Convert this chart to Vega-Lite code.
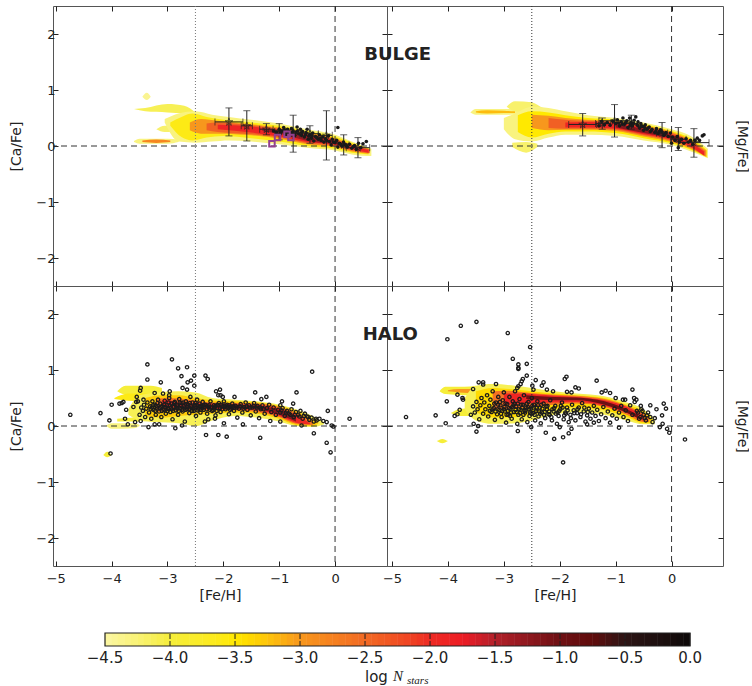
{"$schema":"https://vega.github.io/schema/vega-lite/v6.json","background":"white","padding":{"left":9,"top":5,"right":0,"bottom":0},"config":{"view":{"stroke":"#555","strokeWidth":1},"axis":{"labelFont":"DejaVu Sans","titleFont":"DejaVu Sans","labelFontSize":13,"titleFontSize":14,"titleFontWeight":"normal","labelColor":"#222","titleColor":"#222","tickColor":"#222","grid":false,"domain":false}},
"columns":2,"align":"none","bounds":"flush","spacing":0,
"datasets":{
"lines":[{"k":0}],
"vd":[{"x":0}],"vt":[{"x":-2.5}],
"tl":[
{"b":1,"v":-4.3,"x":-3.6,"l":0.07,"h":0.09},{"b":1,"v":-4.3,"x":-3.5,"l":0.04,"h":0.13},{"b":1,"v":-4.3,"x":-3.0,"l":0.04,"h":0.13},{"b":1,"v":-4.3,"x":-2.8,"l":0.07,"h":0.11},
{"b":2,"v":-2.8,"x":-3.45,"l":0.07,"h":0.1},{"b":2,"v":-2.8,"x":-3.2,"l":0.055,"h":0.115},{"b":2,"v":-2.8,"x":-2.95,"l":0.07,"h":0.1},
{"b":3,"v":-4.1,"x":-3.6,"l":0.66,"h":0.66},{"b":3,"v":-4.1,"x":-3.4,"l":0.62,"h":0.68},{"b":3,"v":-4.1,"x":-3.0,"l":0.6,"h":0.75},{"b":3,"v":-4.1,"x":-2.7,"l":0.58,"h":0.72},{"b":3,"v":-4.1,"x":-2.5,"l":0.55,"h":0.6},
{"b":4,"v":-4.4,"x":-3.45,"l":0.88,"h":0.88},{"b":4,"v":-4.4,"x":-3.37,"l":0.82,"h":0.95},{"b":4,"v":-4.4,"x":-3.3,"l":0.88,"h":0.88},
{"b":11,"v":-4.2,"x":-3.2,"l":0.3,"h":0.3},{"b":11,"v":-4.2,"x":-3.05,"l":0.25,"h":0.36},{"b":11,"v":-4.2,"x":-2.8,"l":0.25,"h":0.36},
{"b":5,"v":-4.3,"x":-3.05,"l":0.42,"h":0.48},{"b":5,"v":-4.3,"x":-2.8,"l":0.08,"h":0.58},{"b":5,"v":-4.3,"x":-2.5,"l":0.06,"h":0.62},{"b":5,"v":-4.3,"x":-2.2,"l":0.08,"h":0.56},{"b":5,"v":-4.3,"x":-1.9,"l":0.1,"h":0.52},{"b":5,"v":-4.3,"x":-1.5,"l":0.08,"h":0.47},{"b":5,"v":-4.3,"x":-1,"l":0.03,"h":0.4},{"b":5,"v":-4.3,"x":-0.5,"l":-0.03,"h":0.3},{"b":5,"v":-4.3,"x":0,"l":-0.08,"h":0.2},{"b":5,"v":-4.3,"x":0.3,"l":-0.15,"h":0.08},{"b":5,"v":-4.3,"x":0.65,"l":-0.18,"h":-0.05},
{"b":6,"v":-3.6,"x":-2.95,"l":0.36,"h":0.42},{"b":6,"v":-3.6,"x":-2.75,"l":0.16,"h":0.52},{"b":6,"v":-3.6,"x":-2.55,"l":0.1,"h":0.58},{"b":6,"v":-3.6,"x":-2.3,"l":0.15,"h":0.52},{"b":6,"v":-3.6,"x":-2,"l":0.18,"h":0.47},{"b":6,"v":-3.6,"x":-1.5,"l":0.14,"h":0.42},{"b":6,"v":-3.6,"x":-1,"l":0.08,"h":0.36},{"b":6,"v":-3.6,"x":-0.5,"l":0,"h":0.27},{"b":6,"v":-3.6,"x":0,"l":-0.05,"h":0.17},{"b":6,"v":-3.6,"x":0.3,"l":-0.12,"h":0.06},{"b":6,"v":-3.6,"x":0.6,"l":-0.15,"h":-0.04},
{"b":7,"v":-3,"x":-2.6,"l":0.28,"h":0.42},{"b":7,"v":-3,"x":-2.4,"l":0.22,"h":0.48},{"b":7,"v":-3,"x":-2.1,"l":0.22,"h":0.45},{"b":7,"v":-3,"x":-1.5,"l":0.19,"h":0.39},{"b":7,"v":-3,"x":-1,"l":0.13,"h":0.33},{"b":7,"v":-3,"x":-0.5,"l":0.03,"h":0.24},{"b":7,"v":-3,"x":0,"l":-0.02,"h":0.14},{"b":7,"v":-3,"x":0.3,"l":-0.1,"h":0.03},{"b":7,"v":-3,"x":0.6,"l":-0.14,"h":-0.05},
{"b":8,"v":-2.4,"x":-2.3,"l":0.28,"h":0.4},{"b":8,"v":-2.4,"x":-2.1,"l":0.25,"h":0.42},{"b":8,"v":-2.4,"x":-1.5,"l":0.21,"h":0.37},{"b":8,"v":-2.4,"x":-1,"l":0.15,"h":0.31},{"b":8,"v":-2.4,"x":-0.5,"l":0.05,"h":0.22},{"b":8,"v":-2.4,"x":0,"l":0,"h":0.12},{"b":8,"v":-2.4,"x":0.3,"l":-0.08,"h":0.01},{"b":8,"v":-2.4,"x":0.62,"l":-0.13,"h":-0.06},
{"b":9,"v":-1.9,"x":-2.1,"l":0.3,"h":0.38},{"b":9,"v":-1.9,"x":-1.5,"l":0.24,"h":0.35},{"b":9,"v":-1.9,"x":-1,"l":0.17,"h":0.29},{"b":9,"v":-1.9,"x":-0.5,"l":0.07,"h":0.2},{"b":9,"v":-1.9,"x":0,"l":0.02,"h":0.1},{"b":9,"v":-1.9,"x":0.3,"l":-0.06,"h":0},{"b":9,"v":-1.9,"x":0.6,"l":-0.12,"h":-0.07},
{"b":10,"v":-1.3,"x":-1.3,"l":0.27,"h":0.31},{"b":10,"v":-1.3,"x":-0.9,"l":0.2,"h":0.27},{"b":10,"v":-1.3,"x":-0.5,"l":0.09,"h":0.18},{"b":10,"v":-1.3,"x":0,"l":0.03,"h":0.08},{"b":10,"v":-1.3,"x":0.2,"l":-0.01,"h":0.03}],
"tr":[
{"b":1,"v":-4.3,"x":-3.6,"l":0.6,"h":0.6},{"b":1,"v":-4.3,"x":-3.5,"l":0.56,"h":0.66},{"b":1,"v":-4.3,"x":-3,"l":0.56,"h":0.66},{"b":1,"v":-4.3,"x":-2.7,"l":0.56,"h":0.66},
{"b":2,"v":-3.2,"x":-3.5,"l":0.6,"h":0.62},{"b":2,"v":-3.2,"x":-3.3,"l":0.58,"h":0.64},{"b":2,"v":-3.2,"x":-3,"l":0.59,"h":0.63},{"b":2,"v":-3.2,"x":-2.8,"l":0.59,"h":0.62},
{"b":3,"v":-4.2,"x":-2.95,"l":0.7,"h":0.7},{"b":3,"v":-4.2,"x":-2.8,"l":0.62,"h":0.8},{"b":3,"v":-4.2,"x":-2.5,"l":0.6,"h":0.78},{"b":3,"v":-4.2,"x":-2.3,"l":0.6,"h":0.68},{"b":3,"v":-4.2,"x":-2,"l":0.6,"h":0.62},
{"b":4,"v":-4.2,"x":-2.85,"l":-0.02,"h":0.06},{"b":4,"v":-4.2,"x":-2.6,"l":-0.12,"h":0.07},{"b":4,"v":-4.2,"x":-2.4,"l":-0.02,"h":0.04},
{"b":5,"v":-4.3,"x":-3,"l":0.3,"h":0.5},{"b":5,"v":-4.3,"x":-2.8,"l":0.12,"h":0.58},{"b":5,"v":-4.3,"x":-2.5,"l":0.08,"h":0.7},{"b":5,"v":-4.3,"x":-2.2,"l":0.15,"h":0.68},{"b":5,"v":-4.3,"x":-1.9,"l":0.2,"h":0.62},{"b":5,"v":-4.3,"x":-1.5,"l":0.2,"h":0.55},{"b":5,"v":-4.3,"x":-1,"l":0.18,"h":0.5},{"b":5,"v":-4.3,"x":-0.5,"l":0.1,"h":0.42},{"b":5,"v":-4.3,"x":0,"l":0.02,"h":0.3},{"b":5,"v":-4.3,"x":0.3,"l":-0.08,"h":0.2},{"b":5,"v":-4.3,"x":0.65,"l":-0.22,"h":-0.05},
{"b":6,"v":-3.5,"x":-2.75,"l":0.25,"h":0.55},{"b":6,"v":-3.5,"x":-2.5,"l":0.15,"h":0.62},{"b":6,"v":-3.5,"x":-2.2,"l":0.22,"h":0.6},{"b":6,"v":-3.5,"x":-1.9,"l":0.26,"h":0.55},{"b":6,"v":-3.5,"x":-1.5,"l":0.26,"h":0.5},{"b":6,"v":-3.5,"x":-1,"l":0.23,"h":0.47},{"b":6,"v":-3.5,"x":-0.5,"l":0.14,"h":0.39},{"b":6,"v":-3.5,"x":0,"l":0.05,"h":0.27},{"b":6,"v":-3.5,"x":0.3,"l":-0.05,"h":0.16},{"b":6,"v":-3.5,"x":0.63,"l":-0.2,"h":-0.07},
{"b":7,"v":-3,"x":-2.5,"l":0.32,"h":0.56},{"b":7,"v":-3,"x":-2.2,"l":0.28,"h":0.54},{"b":7,"v":-3,"x":-1.9,"l":0.29,"h":0.5},{"b":7,"v":-3,"x":-1.5,"l":0.29,"h":0.47},{"b":7,"v":-3,"x":-1,"l":0.27,"h":0.45},{"b":7,"v":-3,"x":-0.5,"l":0.17,"h":0.37},{"b":7,"v":-3,"x":0,"l":0.07,"h":0.25},{"b":7,"v":-3,"x":0.3,"l":-0.03,"h":0.13},{"b":7,"v":-3,"x":0.62,"l":-0.19,"h":-0.08},
{"b":8,"v":-2.4,"x":-2.2,"l":0.32,"h":0.5},{"b":8,"v":-2.4,"x":-1.9,"l":0.31,"h":0.47},{"b":8,"v":-2.4,"x":-1.5,"l":0.31,"h":0.45},{"b":8,"v":-2.4,"x":-1,"l":0.29,"h":0.43},{"b":8,"v":-2.4,"x":-0.5,"l":0.19,"h":0.35},{"b":8,"v":-2.4,"x":0,"l":0.09,"h":0.23},{"b":8,"v":-2.4,"x":0.3,"l":-0.01,"h":0.11},{"b":8,"v":-2.4,"x":0.6,"l":-0.18,"h":-0.09},
{"b":9,"v":-1.9,"x":-1.9,"l":0.33,"h":0.42},{"b":9,"v":-1.9,"x":-1.5,"l":0.33,"h":0.43},{"b":9,"v":-1.9,"x":-1,"l":0.31,"h":0.41},{"b":9,"v":-1.9,"x":-0.5,"l":0.21,"h":0.33},{"b":9,"v":-1.9,"x":0,"l":0.11,"h":0.21},{"b":9,"v":-1.9,"x":0.3,"l":0.01,"h":0.09},{"b":9,"v":-1.9,"x":0.58,"l":-0.17,"h":-0.1},
{"b":10,"v":-1.2,"x":-1,"l":0.33,"h":0.39},{"b":10,"v":-1.2,"x":-0.5,"l":0.23,"h":0.31},{"b":10,"v":-1.2,"x":0,"l":0.13,"h":0.19},{"b":10,"v":-1.2,"x":0.2,"l":0.06,"h":0.12}],
"bl":[
{"b":1,"v":-4,"x":-3.9,"l":0.62,"h":0.62},{"b":1,"v":-4,"x":-3.75,"l":0.56,"h":0.72},{"b":1,"v":-4,"x":-3.3,"l":0.55,"h":0.72},{"b":1,"v":-4,"x":-3.1,"l":0.55,"h":0.68},
{"b":2,"v":-3.6,"x":-3.95,"l":0.48,"h":0.5},{"b":2,"v":-3.6,"x":-3.7,"l":0.45,"h":0.58},{"b":2,"v":-3.6,"x":-3.3,"l":0.44,"h":0.58},
{"b":3,"v":-4.3,"x":-4.1,"l":0.01,"h":0.01},{"b":3,"v":-4.3,"x":-4,"l":-0.05,"h":0.05},{"b":3,"v":-4.3,"x":-3.6,"l":-0.04,"h":0.05},{"b":3,"v":-4.3,"x":-3.5,"l":0,"h":0.02},
{"b":4,"v":-4,"x":-3.9,"l":0.08,"h":0.13},{"b":4,"v":-4,"x":-3.5,"l":0.08,"h":0.16},
{"b":5,"v":-4,"x":-4.15,"l":-0.52,"h":-0.52},{"b":5,"v":-4,"x":-4.08,"l":-0.56,"h":-0.46},{"b":5,"v":-4,"x":-4,"l":-0.52,"h":-0.52},
{"b":6,"v":-4.1,"x":-3.7,"l":0.2,"h":0.3},{"b":6,"v":-4.1,"x":-3.5,"l":0.1,"h":0.55},{"b":6,"v":-4.1,"x":-3.2,"l":0.07,"h":0.6},{"b":6,"v":-4.1,"x":-2.8,"l":0.05,"h":0.62},{"b":6,"v":-4.1,"x":-2.5,"l":0,"h":0.6},{"b":6,"v":-4.1,"x":-2.2,"l":0.1,"h":0.5},{"b":6,"v":-4.1,"x":-1.8,"l":0.18,"h":0.47},{"b":6,"v":-4.1,"x":-1.4,"l":0.15,"h":0.44},{"b":6,"v":-4.1,"x":-1,"l":0.08,"h":0.38},{"b":6,"v":-4.1,"x":-0.7,"l":0,"h":0.3},{"b":6,"v":-4.1,"x":-0.4,"l":-0.02,"h":0.18},{"b":6,"v":-4.1,"x":-0.2,"l":0.03,"h":0.07},
{"b":7,"v":-3.3,"x":-3.4,"l":0.18,"h":0.5},{"b":7,"v":-3.3,"x":-3.1,"l":0.15,"h":0.55},{"b":7,"v":-3.3,"x":-2.8,"l":0.18,"h":0.55},{"b":7,"v":-3.3,"x":-2.5,"l":0.2,"h":0.5},{"b":7,"v":-3.3,"x":-2.2,"l":0.22,"h":0.46},{"b":7,"v":-3.3,"x":-1.8,"l":0.24,"h":0.44},{"b":7,"v":-3.3,"x":-1.4,"l":0.22,"h":0.42},{"b":7,"v":-3.3,"x":-1,"l":0.13,"h":0.36},{"b":7,"v":-3.3,"x":-0.7,"l":0.02,"h":0.27},{"b":7,"v":-3.3,"x":-0.4,"l":0,"h":0.12},{"b":7,"v":-3.3,"x":-0.3,"l":0.04,"h":0.07},
{"b":8,"v":-2.6,"x":-3.2,"l":0.25,"h":0.48},{"b":8,"v":-2.6,"x":-3,"l":0.27,"h":0.5},{"b":8,"v":-2.6,"x":-2.7,"l":0.28,"h":0.48},{"b":8,"v":-2.6,"x":-2.3,"l":0.28,"h":0.43},{"b":8,"v":-2.6,"x":-1.8,"l":0.28,"h":0.41},{"b":8,"v":-2.6,"x":-1.4,"l":0.25,"h":0.4},{"b":8,"v":-2.6,"x":-1,"l":0.16,"h":0.34},{"b":8,"v":-2.6,"x":-0.7,"l":0.04,"h":0.24},{"b":8,"v":-2.6,"x":-0.4,"l":0.02,"h":0.08},
{"b":9,"v":-2,"x":-3.1,"l":0.32,"h":0.46},{"b":9,"v":-2,"x":-3,"l":0.33,"h":0.47},{"b":9,"v":-2,"x":-2.85,"l":0.33,"h":0.43},{"b":9,"v":-2,"x":-2.4,"l":0.3,"h":0.41},{"b":9,"v":-2,"x":-1.8,"l":0.3,"h":0.39},{"b":9,"v":-2,"x":-1.4,"l":0.28,"h":0.38},{"b":9,"v":-2,"x":-1,"l":0.18,"h":0.31},{"b":9,"v":-2,"x":-0.7,"l":0.06,"h":0.2},{"b":9,"v":-2,"x":-0.45,"l":0.03,"h":0.05},
{"b":10,"v":-1.2,"x":-2.4,"l":0.32,"h":0.38},{"b":10,"v":-1.2,"x":-1.8,"l":0.32,"h":0.37},{"b":10,"v":-1.2,"x":-1.4,"l":0.3,"h":0.36},{"b":10,"v":-1.2,"x":-1,"l":0.2,"h":0.29},{"b":10,"v":-1.2,"x":-0.7,"l":0.08,"h":0.17}],
"br":[
{"b":1,"v":-4,"x":-4.15,"l":0.62,"h":0.62},{"b":1,"v":-4,"x":-4.05,"l":0.57,"h":0.7},{"b":1,"v":-4,"x":-3.7,"l":0.55,"h":0.7},{"b":1,"v":-4,"x":-3.5,"l":0.55,"h":0.72},
{"b":2,"v":-3,"x":-4,"l":0.62,"h":0.64},{"b":2,"v":-3,"x":-3.8,"l":0.6,"h":0.66},{"b":2,"v":-3,"x":-3.5,"l":0.58,"h":0.66},
{"b":3,"v":-4,"x":-3.95,"l":0.23,"h":0.23},{"b":3,"v":-4,"x":-3.8,"l":0.18,"h":0.3},{"b":3,"v":-4,"x":-3.55,"l":0.18,"h":0.32},
{"b":4,"v":-4,"x":-4.2,"l":-0.27,"h":-0.27},{"b":4,"v":-4,"x":-4.1,"l":-0.31,"h":-0.23},{"b":4,"v":-4,"x":-4,"l":-0.27,"h":-0.27},
{"b":5,"v":-4.1,"x":-3.7,"l":0.3,"h":0.5},{"b":5,"v":-4.1,"x":-3.5,"l":0.1,"h":0.72},{"b":5,"v":-4.1,"x":-3.2,"l":0.04,"h":0.75},{"b":5,"v":-4.1,"x":-2.8,"l":0.05,"h":0.72},{"b":5,"v":-4.1,"x":-2.5,"l":0.1,"h":0.68},{"b":5,"v":-4.1,"x":-2.1,"l":0.2,"h":0.62},{"b":5,"v":-4.1,"x":-1.7,"l":0.25,"h":0.58},{"b":5,"v":-4.1,"x":-1.2,"l":0.2,"h":0.53},{"b":5,"v":-4.1,"x":-0.8,"l":0.1,"h":0.42},{"b":5,"v":-4.1,"x":-0.5,"l":0.03,"h":0.3},{"b":5,"v":-4.1,"x":-0.3,"l":0.03,"h":0.12},
{"b":6,"v":-3.4,"x":-3.5,"l":0.25,"h":0.62},{"b":6,"v":-3.4,"x":-3.2,"l":0.15,"h":0.68},{"b":6,"v":-3.4,"x":-2.9,"l":0.15,"h":0.66},{"b":6,"v":-3.4,"x":-2.5,"l":0.2,"h":0.62},{"b":6,"v":-3.4,"x":-2.1,"l":0.3,"h":0.58},{"b":6,"v":-3.4,"x":-1.7,"l":0.33,"h":0.55},{"b":6,"v":-3.4,"x":-1.2,"l":0.28,"h":0.5},{"b":6,"v":-3.4,"x":-0.8,"l":0.16,"h":0.38},{"b":6,"v":-3.4,"x":-0.5,"l":0.05,"h":0.26},{"b":6,"v":-3.4,"x":-0.35,"l":0.05,"h":0.12},
{"b":7,"v":-2.6,"x":-3.2,"l":0.3,"h":0.62},{"b":7,"v":-2.6,"x":-2.95,"l":0.3,"h":0.63},{"b":7,"v":-2.6,"x":-2.6,"l":0.33,"h":0.6},{"b":7,"v":-2.6,"x":-2.1,"l":0.38,"h":0.56},{"b":7,"v":-2.6,"x":-1.7,"l":0.4,"h":0.54},{"b":7,"v":-2.6,"x":-1.2,"l":0.34,"h":0.48},{"b":7,"v":-2.6,"x":-0.8,"l":0.2,"h":0.36},{"b":7,"v":-2.6,"x":-0.5,"l":0.07,"h":0.22},{"b":7,"v":-2.6,"x":-0.4,"l":0.07,"h":0.15},
{"b":8,"v":-1.9,"x":-3,"l":0.38,"h":0.58},{"b":8,"v":-1.9,"x":-2.7,"l":0.4,"h":0.58},{"b":8,"v":-1.9,"x":-2.1,"l":0.42,"h":0.54},{"b":8,"v":-1.9,"x":-1.7,"l":0.43,"h":0.52},{"b":8,"v":-1.9,"x":-1.2,"l":0.36,"h":0.46},{"b":8,"v":-1.9,"x":-0.8,"l":0.23,"h":0.34},{"b":8,"v":-1.9,"x":-0.5,"l":0.09,"h":0.19},
{"b":9,"v":-1,"x":-2.6,"l":0.48,"h":0.55},{"b":9,"v":-1,"x":-2.1,"l":0.46,"h":0.52},{"b":9,"v":-1,"x":-1.7,"l":0.46,"h":0.51},{"b":9,"v":-1,"x":-1.2,"l":0.38,"h":0.44},{"b":9,"v":-1,"x":-0.85,"l":0.26,"h":0.32},{"b":9,"v":-1,"x":-0.6,"l":0.14,"h":0.2}],
"et":[{"x":-1.9,"y":0.43,"xl":-2.15,"xh":-1.65,"yl":0.18,"yh":0.68},{"x":-1.58,"y":0.36,"xl":-1.68,"xh":-1.48,"yl":0.09,"yh":0.63},{"x":-1.23,"y":0.3,"xl":-1.35,"xh":-1.11,"yl":0.2,"yh":0.4},{"x":-1.0,"y":0.26,"xl":-1.08,"xh":-0.92,"yl":0.11,"yh":0.4},{"x":-0.75,"y":0.22,"xl":-0.87,"xh":-0.63,"yl":-0.11,"yh":0.55},{"x":-0.45,"y":0.22,"xl":-0.6,"xh":-0.3,"yl":0.05,"yh":0.36},{"x":-0.155,"y":0.19,"xl":-0.3,"xh":-0.05,"yl":-0.25,"yh":0.63},{"x":0.155,"y":0.02,"xl":0.05,"xh":0.25,"yl":-0.16,"yh":0.2},{"x":0.41,"y":-0.03,"xl":0.2,"xh":0.62,"yl":-0.21,"yh":0.15}],
"er":[{"x":-1.59,"y":0.385,"xl":-1.84,"xh":-1.34,"yl":0.18,"yh":0.58},{"x":-1.24,"y":0.4,"xl":-1.36,"xh":-1.09,"yl":0.3,"yh":0.5},{"x":-1.02,"y":0.45,"xl":-1.3,"xh":-0.75,"yl":0.16,"yh":0.74},{"x":-0.72,"y":0.4,"xl":-0.85,"xh":-0.6,"yl":0.3,"yh":0.55},{"x":-0.17,"y":0.23,"xl":-0.27,"xh":-0.07,"yl":-0.03,"yh":0.42},{"x":0.12,"y":0.12,"xl":-0.02,"xh":0.26,"yl":-0.08,"yh":0.33},{"x":0.4,"y":0.06,"xl":0.13,"xh":0.67,"yl":-0.2,"yh":0.31}],
"ps":[{"x":-1.13,"y":0.04},{"x":-1.03,"y":0.15},{"x":-0.86,"y":0.21},{"x":-0.79,"y":0.15}],
"dl":[{"x":-1.1,"y":0.27},{"x":-1.05,"y":0.24},{"x":-1,"y":0.3},{"x":-0.98,"y":0.22},{"x":-0.95,"y":0.27},{"x":-0.92,"y":0.33},{"x":-0.9,"y":0.25},{"x":-0.88,"y":0.2},{"x":-0.85,"y":0.3},{"x":-0.82,"y":0.26},{"x":-0.8,"y":0.22},{"x":-0.78,"y":0.31},{"x":-0.75,"y":0.27},{"x":-0.72,"y":0.19},{"x":-0.7,"y":0.25},{"x":-0.68,"y":0.34},{"x":-0.65,"y":0.22},{"x":-0.62,"y":0.3},{"x":-0.6,"y":0.19},{"x":-0.58,"y":0.26},{"x":-0.55,"y":0.16},{"x":-0.52,"y":0.24},{"x":-0.5,"y":0.3},{"x":-0.48,"y":0.12},{"x":-0.45,"y":0.2},{"x":-0.42,"y":0.14},{"x":-0.4,"y":0.23},{"x":-0.38,"y":0.09},{"x":-0.35,"y":0.17},{"x":-0.3,"y":0.12},{"x":-0.28,"y":0.2},{"x":-0.25,"y":0.1},{"x":-0.22,"y":0.16},{"x":-0.2,"y":0.07},{"x":-0.17,"y":0.13},{"x":-0.12,"y":0.18},{"x":-0.1,"y":0.08},{"x":-0.07,"y":0.02},{"x":-0.05,"y":0.12},{"x":0,"y":0.06},{"x":0.03,"y":0.1},{"x":0.05,"y":-0.02},{"x":0.08,"y":0.05},{"x":0.12,"y":0},{"x":0.15,"y":0.07},{"x":0.18,"y":0.03},{"x":0.22,"y":-0.02},{"x":0.26,"y":0.03},{"x":0.3,"y":-0.04},{"x":0.35,"y":0.01},{"x":0.38,"y":-0.06},{"x":0.42,"y":0.05},{"x":0.46,"y":-0.03},{"x":0.5,"y":0.04},{"x":0.56,"y":0.08},{"x":0.05,"y":0.33},{"x":-0.97,"y":0.25},{"x":-0.9,"y":0.29},{"x":-0.83,"y":0.24},{"x":-0.77,"y":0.24},{"x":-0.67,"y":0.27},{"x":-0.6,"y":0.24},{"x":-0.53,"y":0.2},{"x":-0.47,"y":0.18},{"x":-0.41,"y":0.18},{"x":-0.33,"y":0.15},{"x":-0.26,"y":0.14},{"x":-0.15,"y":0.1},{"x":-0.03,"y":0.07},{"x":0.1,"y":0.03},{"x":0.2,"y":0.01},{"x":0.33,"y":-0.01}],
"dr":[{"x":-1.3,"y":0.36},{"x":-1.25,"y":0.44},{"x":-1.2,"y":0.38},{"x":-1.15,"y":0.42},{"x":-1.1,"y":0.37},{"x":-1.05,"y":0.44},{"x":-1,"y":0.4},{"x":-0.97,"y":0.47},{"x":-0.93,"y":0.36},{"x":-0.9,"y":0.43},{"x":-0.87,"y":0.5},{"x":-0.84,"y":0.39},{"x":-0.8,"y":0.45},{"x":-0.78,"y":0.33},{"x":-0.75,"y":0.5},{"x":-0.72,"y":0.42},{"x":-0.7,"y":0.36},{"x":-0.67,"y":0.46},{"x":-0.64,"y":0.52},{"x":-0.62,"y":0.38},{"x":-0.6,"y":0.43},{"x":-0.57,"y":0.32},{"x":-0.55,"y":0.4},{"x":-0.52,"y":0.35},{"x":-0.5,"y":0.28},{"x":-0.47,"y":0.38},{"x":-0.44,"y":0.3},{"x":-0.4,"y":0.34},{"x":-0.38,"y":0.26},{"x":-0.35,"y":0.3},{"x":-0.3,"y":0.24},{"x":-0.27,"y":0.31},{"x":-0.24,"y":0.22},{"x":-0.2,"y":0.29},{"x":-0.17,"y":0.25},{"x":-0.14,"y":0.19},{"x":-0.1,"y":0.24},{"x":-0.06,"y":0.17},{"x":-0.02,"y":0.23},{"x":0.02,"y":0.16},{"x":0.06,"y":0.1},{"x":0.1,"y":0.17},{"x":0.14,"y":0.07},{"x":0.18,"y":0.12},{"x":0.22,"y":0.05},{"x":0.26,"y":0.13},{"x":0.3,"y":0.07},{"x":0.34,"y":0.1},{"x":0.38,"y":0.03},{"x":0.42,"y":0.1},{"x":0.46,"y":0.14},{"x":0.5,"y":0.1},{"x":0.55,"y":0.18},{"x":0.58,"y":0.2},{"x":0.12,"y":-0.03},{"x":0,"y":0.05},{"x":-0.95,"y":0.41},{"x":-0.88,"y":0.39},{"x":-0.82,"y":0.42},{"x":-0.74,"y":0.37},{"x":-0.68,"y":0.4},{"x":-0.6,"y":0.36},{"x":-0.54,"y":0.36},{"x":-0.48,"y":0.33},{"x":-0.42,"y":0.32},{"x":-0.36,"y":0.28},{"x":-0.28,"y":0.27},{"x":-0.22,"y":0.26},{"x":-0.12,"y":0.21}],
"pl":[{"x":-4.74,"y":0.2},{"x":-4.2,"y":0.23},{"x":-4.04,"y":0.1},{"x":-4,"y":0.38},{"x":-4.02,"y":-0.49},{"x":-2.92,"y":1.19},{"x":-3.36,"y":1.1},{"x":-2.81,"y":1.03},{"x":-2.65,"y":1.05},{"x":-2.75,"y":0.89},{"x":-3.36,"y":0.83},{"x":-3.12,"y":0.78},{"x":-2.52,"y":0.9},{"x":-2.32,"y":0.9},{"x":-2.28,"y":0.84},{"x":-2.58,"y":0.81},{"x":-2.64,"y":0.78},{"x":-2.52,"y":0.72},{"x":-2.73,"y":0.68},{"x":-2.65,"y":0.65},{"x":-3.48,"y":0.68},{"x":-3.49,"y":0.63},{"x":-0.41,"y":0.97},{"x":-0.69,"y":0.6},{"x":0.26,"y":0.13},{"x":-0.13,"y":0.27},{"x":-0.15,"y":-0.3},{"x":-0.08,"y":-0.47},{"x":-0.38,"y":-0.13},{"x":-0.03,"y":-0.01},{"x":-0.06,"y":0.01},{"x":-1.34,"y":-0.21},{"x":-1.94,"y":-0.19},{"x":-2.09,"y":-0.16},{"x":-2.31,"y":-0.16},{"x":-3.34,"y":-0.02},{"x":-2.86,"y":-0.04},{"x":-2.74,"y":0.01},{"x":-3.23,"y":0.03},{"x":-3.15,"y":0.03},{"x":-3.71,"y":0.03},{"x":-3.58,"y":0.07},{"x":-3.48,"y":0.09},{"x":-3.76,"y":0.13},{"x":-3.74,"y":0.29},{"x":-3.86,"y":0.4},{"x":-3.82,"y":0.41},{"x":-3.79,"y":0.43},{"x":-3.61,"y":0.34},{"x":-3.55,"y":0.52},{"x":-3.56,"y":0.43},{"x":-3.53,"y":0.44},{"x":-3.43,"y":0.47},{"x":-3.23,"y":0.59},{"x":-3.08,"y":0.58},{"x":-2.96,"y":0.62},{"x":-2.97,"y":0.55},{"x":-1.43,"y":0.6},{"x":-1.23,"y":0.52},{"x":-1.32,"y":0.48},{"x":-1.8,"y":0.52},{"x":-2.06,"y":0.65},{"x":-2.13,"y":0.62},{"x":-2.09,"y":0.55},{"x":-2.05,"y":0.55},{"x":-2.01,"y":0.52},{"x":-0.98,"y":0.37},{"x":-0.75,"y":0.4},{"x":-0.95,"y":0.44},{"x":-1.16,"y":0.09},{"x":-0.98,"y":0.08},{"x":-1.65,"y":0.03},{"x":-1.99,"y":0.05},{"x":-2.33,"y":0.08},{"x":-2.27,"y":0.12},{"x":-2.15,"y":0.13},{"x":-0.28,"y":0.13},{"x":-0.21,"y":0.09},{"x":-0.15,"y":0.07},{"x":-0.6,"y":0.01},{"x":-0.33,"y":0.1},
{"x":-3.5,"y":0.2},{"x":-3.47,"y":0.33},{"x":-3.44,"y":0.27},{"x":-3.42,"y":0.38},{"x":-3.4,"y":0.16},{"x":-3.38,"y":0.31},{"x":-3.36,"y":0.42},{"x":-3.33,"y":0.24},{"x":-3.31,"y":0.35},{"x":-3.29,"y":0.13},{"x":-3.27,"y":0.44},{"x":-3.25,"y":0.29},{"x":-3.23,"y":0.38},{"x":-3.21,"y":0.2},{"x":-3.19,"y":0.33},{"x":-3.17,"y":0.47},{"x":-3.15,"y":0.26},{"x":-3.13,"y":0.4},{"x":-3.11,"y":0.16},{"x":-3.09,"y":0.35},{"x":-3.07,"y":0.29},{"x":-3.05,"y":0.45},{"x":-3.03,"y":0.22},{"x":-3.01,"y":0.37},{"x":-2.99,"y":0.31},{"x":-2.97,"y":0.5},{"x":-2.95,"y":0.25},{"x":-2.93,"y":0.4},{"x":-2.91,"y":0.12},{"x":-2.89,"y":0.34},{"x":-2.87,"y":0.43},{"x":-2.85,"y":0.28},{"x":-2.83,"y":0.37},{"x":-2.81,"y":0.2},{"x":-2.79,"y":0.48},{"x":-2.77,"y":0.32},{"x":-2.75,"y":0.41},{"x":-2.73,"y":0.26},{"x":-2.71,"y":0.36},{"x":-2.69,"y":0.08},{"x":-2.67,"y":0.44},{"x":-2.65,"y":0.3},{"x":-2.63,"y":0.38},{"x":-2.61,"y":0.23},{"x":-2.59,"y":0.52},{"x":-2.57,"y":0.33},{"x":-2.55,"y":0.42},{"x":-2.53,"y":0.27},{"x":-2.51,"y":0.37},{"x":-2.49,"y":0.18},{"x":-2.47,"y":0.47},{"x":-2.45,"y":0.31},{"x":-2.43,"y":0.4},{"x":-2.41,"y":0.24},{"x":-2.39,"y":0.35},{"x":-2.37,"y":0.43},{"x":-2.35,"y":0.29},{"x":-2.32,"y":0.38},{"x":-2.29,"y":0.22},{"x":-2.26,"y":0.33},{"x":-2.23,"y":0.44},{"x":-2.2,"y":0.27},{"x":-2.17,"y":0.37},{"x":-2.14,"y":0.19},{"x":-2.11,"y":0.32},{"x":-2.08,"y":0.41},{"x":-2.05,"y":0.25},{"x":-2.02,"y":0.35},{"x":-1.99,"y":0.44},{"x":-1.96,"y":0.3},{"x":-1.93,"y":0.38},{"x":-1.9,"y":0.21},{"x":-1.87,"y":0.34},{"x":-1.84,"y":0.4},{"x":-1.81,"y":0.27},{"x":-1.78,"y":0.36},{"x":-1.75,"y":0.15},{"x":-1.72,"y":0.31},{"x":-1.69,"y":0.39},{"x":-1.66,"y":0.24},{"x":-1.63,"y":0.34},{"x":-1.6,"y":0.42},{"x":-1.57,"y":0.29},{"x":-1.54,"y":0.37},{"x":-1.51,"y":0.19},{"x":-1.48,"y":0.33},{"x":-1.45,"y":0.41},{"x":-1.42,"y":0.26},{"x":-1.39,"y":0.36},{"x":-1.36,"y":0.14},{"x":-1.33,"y":0.3},{"x":-1.3,"y":0.37},{"x":-1.26,"y":0.22},{"x":-1.22,"y":0.32},{"x":-1.18,"y":0.38},{"x":-1.14,"y":0.25},{"x":-1.1,"y":0.33},{"x":-1.06,"y":0.2},{"x":-1.02,"y":0.29},{"x":-0.98,"y":0.24},{"x":-0.94,"y":0.32},{"x":-0.9,"y":0.18},{"x":-0.86,"y":0.27},{"x":-0.82,"y":0.22},{"x":-0.78,"y":0.3},{"x":-0.74,"y":0.16},{"x":-0.7,"y":0.25},{"x":-0.66,"y":0.2},{"x":-0.62,"y":0.27},{"x":-0.58,"y":0.13},{"x":-0.54,"y":0.22},{"x":-0.5,"y":0.17},{"x":-0.46,"y":0.11},{"x":-0.42,"y":0.15},{"x":-0.38,"y":0.08},{"x":-0.34,"y":0.13},
{"x":-3.3,"y":0.3},{"x":-3.26,"y":0.37},{"x":-3.22,"y":0.27},{"x":-3.18,"y":0.41},{"x":-3.14,"y":0.32},{"x":-3.1,"y":0.27},{"x":-3.06,"y":0.38},{"x":-3.02,"y":0.3},{"x":-2.98,"y":0.42},{"x":-2.94,"y":0.33},{"x":-2.9,"y":0.27},{"x":-2.86,"y":0.38},{"x":-2.82,"y":0.31},{"x":-2.78,"y":0.42},{"x":-2.74,"y":0.29},{"x":-2.7,"y":0.33},{"x":-2.66,"y":0.39},{"x":-2.62,"y":0.3},{"x":-2.58,"y":0.36},{"x":-2.54,"y":0.31},{"x":-2.5,"y":0.41},{"x":-2.46,"y":0.28},{"x":-2.42,"y":0.35},{"x":-2.38,"y":0.32},{"x":-2.34,"y":0.38},{"x":-2.3,"y":0.3},{"x":-2.26,"y":0.37},{"x":-2.22,"y":0.33},{"x":-2.18,"y":0.29},{"x":-2.14,"y":0.36},{"x":-2.1,"y":0.38},{"x":-2.06,"y":0.32},{"x":-2.02,"y":0.3},{"x":-1.98,"y":0.36},{"x":-1.94,"y":0.33},{"x":-1.9,"y":0.37},{"x":-1.86,"y":0.31},{"x":-1.82,"y":0.35},{"x":-1.76,"y":0.33},{"x":-1.7,"y":0.35},{"x":-1.64,"y":0.31},{"x":-1.58,"y":0.35},{"x":-1.52,"y":0.33},{"x":-1.46,"y":0.36},{"x":-1.4,"y":0.33},{"x":-1.34,"y":0.33},{"x":-1.28,"y":0.3},{"x":-0.96,"y":0.28},{"x":-0.88,"y":0.24},{"x":-0.8,"y":0.2},{"x":-0.72,"y":0.2},{"x":-0.64,"y":0.17},{"x":-0.56,"y":0.18},{"x":-0.48,"y":0.16},
{"x":-3.28,"y":0.33},{"x":-3.2,"y":0.36},{"x":-3.12,"y":0.34},{"x":-3.04,"y":0.34},{"x":-3,"y":0.27},{"x":-2.96,"y":0.37},{"x":-2.92,"y":0.3},{"x":-2.88,"y":0.41},{"x":-2.84,"y":0.33},{"x":-2.8,"y":0.27},{"x":-2.76,"y":0.36},{"x":-2.72,"y":0.42},{"x":-2.68,"y":0.29},{"x":-2.64,"y":0.34},{"x":-2.6,"y":0.41},{"x":-2.56,"y":0.27},{"x":-2.52,"y":0.33},{"x":-2.48,"y":0.38},{"x":-2.44,"y":0.33},{"x":-2.4,"y":0.29},{"x":-2.36,"y":0.37},{"x":-2.28,"y":0.35},{"x":-2.24,"y":0.29},{"x":-2.16,"y":0.33},{"x":-2.12,"y":0.27},{"x":-2.04,"y":0.38},{"x":-1.96,"y":0.35},{"x":-1.88,"y":0.29},{"x":-1.8,"y":0.33}],
"pr":[{"x":-4.75,"y":0.16},{"x":-4.22,"y":0.19},{"x":-4.04,"y":0.05},{"x":-4.01,"y":1.55},{"x":-3.77,"y":1.79},{"x":-3.49,"y":1.86},{"x":-2.93,"y":1.66},{"x":-2.53,"y":1.41},{"x":-2.84,"y":1.2},{"x":-2.74,"y":1.1},{"x":-2.74,"y":1.04},{"x":-2.74,"y":1.02},{"x":-2.59,"y":1.11},{"x":-2.59,"y":0.9},{"x":-2.66,"y":0.84},{"x":-2.68,"y":0.8},{"x":-2.7,"y":0.75},{"x":-2.74,"y":0.71},{"x":-2.76,"y":0.68},{"x":-2.43,"y":0.82},{"x":-2.29,"y":0.78},{"x":-2.32,"y":0.72},{"x":-2.49,"y":0.72},{"x":-2.47,"y":0.65},{"x":-1.91,"y":0.84},{"x":-1.88,"y":0.88},{"x":-1.34,"y":0.81},{"x":-0.7,"y":0.65},{"x":-3.45,"y":0.78},{"x":-3.37,"y":0.78},{"x":-3.37,"y":0.74},{"x":-3.14,"y":0.75},{"x":-3.55,"y":0.66},{"x":-3.83,"y":0.56},{"x":-4.02,"y":0.44},{"x":-3.74,"y":0.5},{"x":-3.73,"y":0.47},{"x":-3.79,"y":0.29},{"x":-3.88,"y":0.18},{"x":-3.83,"y":0.21},{"x":-3.59,"y":0.2},{"x":-3.54,"y":0.04},{"x":-3.46,"y":0},{"x":-3.49,"y":-0.1},{"x":-2.75,"y":-0.09},{"x":-2.25,"y":-0.12},{"x":-2.1,"y":-0.23},{"x":-1.94,"y":-0.2},{"x":-1.84,"y":-0.13},{"x":-1.94,"y":-0.65},{"x":0.24,"y":-0.24},{"x":-0.04,"y":-0.12},{"x":-0.08,"y":-0.05},{"x":-0.16,"y":0.04},{"x":-0.21,"y":-0.02},{"x":-0.17,"y":0.19},{"x":-0.1,"y":0.31},{"x":-0.14,"y":0.4},{"x":-0.27,"y":0.3},{"x":-0.38,"y":0.37},{"x":-0.94,"y":-0.03},{"x":-1.39,"y":0.06},{"x":-1.51,"y":0.03},{"x":-1.79,"y":-0.05},{"x":-2,"y":-0.02},{"x":-2.51,"y":-0.02},{"x":-1.18,"y":0.63},{"x":-1.25,"y":0.6},{"x":-1.1,"y":0.59},{"x":-1.66,"y":0.67},{"x":-1.72,"y":0.69},{"x":-1.79,"y":0.6},{"x":-2.23,"y":0.65},{"x":-2.12,"y":0.62},{"x":-1.87,"y":0.61},{"x":-1,"y":0.5},{"x":-0.87,"y":0.47},{"x":-0.83,"y":0.47},{"x":-0.67,"y":0.5},{"x":-0.63,"y":0.47},{"x":-0.55,"y":0.36},
{"x":-3.55,"y":0.35},{"x":-3.52,"y":0.24},{"x":-3.49,"y":0.43},{"x":-3.47,"y":0.3},{"x":-3.44,"y":0.12},{"x":-3.42,"y":0.37},{"x":-3.4,"y":0.5},{"x":-3.37,"y":0.22},{"x":-3.35,"y":0.42},{"x":-3.33,"y":0.3},{"x":-3.3,"y":0.55},{"x":-3.28,"y":0.17},{"x":-3.26,"y":0.36},{"x":-3.24,"y":0.47},{"x":-3.22,"y":0.25},{"x":-3.2,"y":0.62},{"x":-3.18,"y":0.32},{"x":-3.16,"y":0.11},{"x":-3.14,"y":0.42},{"x":-3.12,"y":0.21},{"x":-3.1,"y":0.52},{"x":-3.08,"y":0.29},{"x":-3.06,"y":0.37},{"x":-3.04,"y":0.16},{"x":-3.02,"y":0.46},{"x":-3,"y":0.6},{"x":-2.98,"y":0.26},{"x":-2.96,"y":0.06},{"x":-2.94,"y":0.39},{"x":-2.92,"y":0.2},{"x":-2.9,"y":0.52},{"x":-2.88,"y":0.31},{"x":-2.86,"y":0.13},{"x":-2.84,"y":0.44},{"x":-2.82,"y":0.25},{"x":-2.8,"y":0.62},{"x":-2.78,"y":0.35},{"x":-2.76,"y":0.04},{"x":-2.74,"y":0.2},{"x":-2.72,"y":0.48},{"x":-2.7,"y":0.29},{"x":-2.68,"y":0.12},{"x":-2.66,"y":0.38},{"x":-2.64,"y":0.55},{"x":-2.62,"y":0.24},{"x":-2.6,"y":0.33},{"x":-2.58,"y":0.07},{"x":-2.56,"y":0.43},{"x":-2.54,"y":0.18},{"x":-2.52,"y":0.3},{"x":-2.5,"y":0.5},{"x":-2.48,"y":0.23},{"x":-2.46,"y":0.38},{"x":-2.44,"y":0.1},{"x":-2.42,"y":0.27},{"x":-2.4,"y":0.44},{"x":-2.38,"y":0.17},{"x":-2.36,"y":0.33},{"x":-2.34,"y":0.05},{"x":-2.32,"y":0.24},{"x":-2.29,"y":0.4},{"x":-2.26,"y":0.14},{"x":-2.23,"y":0.3},{"x":-2.2,"y":0.21},{"x":-2.17,"y":0.46},{"x":-2.14,"y":0.1},{"x":-2.11,"y":0.26},{"x":-2.08,"y":0.36},{"x":-2.05,"y":0.04},{"x":-2.02,"y":0.18},{"x":-1.99,"y":0.3},{"x":-1.96,"y":0.42},{"x":-1.93,"y":0.12},{"x":-1.9,"y":0.24},{"x":-1.87,"y":0.33},{"x":-1.84,"y":0.07},{"x":-1.81,"y":0.2},{"x":-1.78,"y":0.38},{"x":-1.75,"y":0.28},{"x":-1.72,"y":0.1},{"x":-1.69,"y":0.23},{"x":-1.66,"y":0.33},{"x":-1.63,"y":0.16},{"x":-1.6,"y":0.41},{"x":-1.57,"y":0.26},{"x":-1.54,"y":0.08},{"x":-1.51,"y":0.19},{"x":-1.48,"y":0.31},{"x":-1.45,"y":0.13},{"x":-1.42,"y":0.24},{"x":-1.39,"y":0.36},{"x":-1.36,"y":0.18},{"x":-1.33,"y":0.29},{"x":-1.3,"y":0.09},{"x":-1.26,"y":0.21},{"x":-1.22,"y":0.34},{"x":-1.18,"y":0.14},{"x":-1.14,"y":0.26},{"x":-1.1,"y":0.06},{"x":-1.06,"y":0.19},{"x":-1.02,"y":0.31},{"x":-0.98,"y":0.13},{"x":-0.94,"y":0.24},{"x":-0.9,"y":0.36},{"x":-0.86,"y":0.16},{"x":-0.82,"y":0.28},{"x":-0.78,"y":0.09},{"x":-0.74,"y":0.37},{"x":-0.7,"y":0.2},{"x":-0.66,"y":0.43},{"x":-0.62,"y":0.27},{"x":-0.58,"y":0.13},{"x":-0.54,"y":0.3},{"x":-0.5,"y":0.2},{"x":-0.46,"y":0.1},{"x":-0.42,"y":0.24},{"x":-0.38,"y":0.16},{"x":-0.34,"y":0.07},{"x":-0.3,"y":0.14},
{"x":-3.2,"y":0.3},{"x":-3.15,"y":0.26},{"x":-3.1,"y":0.38},{"x":-3.05,"y":0.22},{"x":-3,"y":0.3},{"x":-2.97,"y":0.4},{"x":-2.93,"y":0.27},{"x":-2.89,"y":0.18},{"x":-2.85,"y":0.34},{"x":-2.81,"y":0.4},{"x":-2.77,"y":0.25},{"x":-2.73,"y":0.3},{"x":-2.69,"y":0.38},{"x":-2.65,"y":0.2},{"x":-2.61,"y":0.28},{"x":-2.57,"y":0.34},{"x":-2.53,"y":0.24},{"x":-2.49,"y":0.36},{"x":-2.45,"y":0.2},{"x":-2.41,"y":0.33},{"x":-2.37,"y":0.26},{"x":-2.33,"y":0.38},{"x":-2.28,"y":0.2},{"x":-2.24,"y":0.35},{"x":-2.19,"y":0.26},{"x":-2.15,"y":0.16},{"x":-2.1,"y":0.32},{"x":-2.04,"y":0.24},{"x":-1.98,"y":0.36},{"x":-1.92,"y":0.19},{"x":-1.86,"y":0.28},{"x":-1.8,"y":0.14},{"x":-1.74,"y":0.23},{"x":-1.68,"y":0.3},{"x":-1.62,"y":0.21},{"x":-1.56,"y":0.33},{"x":-1.5,"y":0.25},{"x":-0.6,"y":0.24},{"x":-0.56,"y":0.16},{"x":-0.52,"y":0.27},{"x":-0.48,"y":0.14},{"x":-0.44,"y":0.19},
{"x":-3.25,"y":0.27},{"x":-3.17,"y":0.4},{"x":-3.11,"y":0.3},{"x":-3.07,"y":0.43},{"x":-3.03,"y":0.27},{"x":-2.99,"y":0.34},{"x":-2.95,"y":0.2},{"x":-2.91,"y":0.32},{"x":-2.87,"y":0.24},{"x":-2.83,"y":0.37},{"x":-2.79,"y":0.29},{"x":-2.75,"y":0.4},{"x":-2.71,"y":0.23},{"x":-2.67,"y":0.33},{"x":-2.63,"y":0.27},{"x":-2.59,"y":0.4},{"x":-2.55,"y":0.3},{"x":-2.51,"y":0.22},{"x":-2.47,"y":0.33},{"x":-2.43,"y":0.26},{"x":-2.39,"y":0.37},{"x":-2.35,"y":0.22},{"x":-2.31,"y":0.31},{"x":-2.27,"y":0.25},{"x":-2.22,"y":0.36},{"x":-2.18,"y":0.2},{"x":-2.13,"y":0.3},{"x":-2.07,"y":0.22},{"x":-2.01,"y":0.27},{"x":-1.95,"y":0.33},{"x":-1.89,"y":0.22}],
"cb":[{"v":-4.475},{"v":-4.425},{"v":-4.375},{"v":-4.325},{"v":-4.275},{"v":-4.225},{"v":-4.175},{"v":-4.125},{"v":-4.075},{"v":-4.025},{"v":-3.975},{"v":-3.925},{"v":-3.875},{"v":-3.825},{"v":-3.775},{"v":-3.725},{"v":-3.675},{"v":-3.625},{"v":-3.575},{"v":-3.525},{"v":-3.475},{"v":-3.425},{"v":-3.375},{"v":-3.325},{"v":-3.275},{"v":-3.225},{"v":-3.175},{"v":-3.125},{"v":-3.075},{"v":-3.025},{"v":-2.975},{"v":-2.925},{"v":-2.875},{"v":-2.825},{"v":-2.775},{"v":-2.725},{"v":-2.675},{"v":-2.625},{"v":-2.575},{"v":-2.525},{"v":-2.475},{"v":-2.425},{"v":-2.375},{"v":-2.325},{"v":-2.275},{"v":-2.225},{"v":-2.175},{"v":-2.125},{"v":-2.075},{"v":-2.025},{"v":-1.975},{"v":-1.925},{"v":-1.875},{"v":-1.825},{"v":-1.775},{"v":-1.725},{"v":-1.675},{"v":-1.625},{"v":-1.575},{"v":-1.525},{"v":-1.475},{"v":-1.425},{"v":-1.375},{"v":-1.325},{"v":-1.275},{"v":-1.225},{"v":-1.175},{"v":-1.125},{"v":-1.075},{"v":-1.025},{"v":-0.975},{"v":-0.925},{"v":-0.875},{"v":-0.825},{"v":-0.775},{"v":-0.725},{"v":-0.675},{"v":-0.625},{"v":-0.575},{"v":-0.525},{"v":-0.475},{"v":-0.425},{"v":-0.375},{"v":-0.325},{"v":-0.275},{"v":-0.225},{"v":-0.175},{"v":-0.125},{"v":-0.075},{"v":-0.025}],
"cbt":[{"v":-4},{"v":-3.5},{"v":-3},{"v":-2.5},{"v":-2},{"v":-1.5},{"v":-1},{"v":-0.5}],
"cbl":[{"v":-4.5,"y":-12,"t":"−4.5"},{"v":-4,"y":-12,"t":"−4.0"},{"v":-3.5,"y":-12,"t":"−3.5"},{"v":-3,"y":-12,"t":"−3.0"},{"v":-2.5,"y":-12,"t":"−2.5"},{"v":-2,"y":-12,"t":"−2.0"},{"v":-1.5,"y":-12,"t":"−1.5"},{"v":-1,"y":-12,"t":"−1.0"},{"v":-0.5,"y":-12,"t":"−0.5"},{"v":0,"y":-12,"t":"0.0"}]
},
"concat":[
{"width":334,"height":280,"resolve":{"axis":{"x":"independent","y":"independent"}},"layer":[
{"data":{"name":"tl"},"mark":{"type":"area","interpolate":"monotone"},"encoding":{"x":{"field":"x","type":"quantitative","scale":{"domain":[-5.05,0.93],"nice":false},"axis":{"orient":"bottom","values":[-5,-4,-3,-2,-1,0],"labels":false,"title":null,"tickSize":-5}},"y":{"field":"l","type":"quantitative","scale":{"domain":[-2.5,2.5],"nice":false},"axis":{"orient":"left","values":[-2,-1,0,1,2],"title":"[Ca/Fe]","tickSize":-5,"labelPadding":3,"titlePadding":12}},"y2":{"field":"h"},"detail":{"field":"b"},"color":{"field":"v","type":"quantitative","legend":null,"scale":{"domain":[-4.5,-4,-3.5,-3.25,-3,-2.5,-2,-1.75,-1.5,-1,-0.75,-0.5,0],"range":["#fbf6a4","#f6ee3a","#ffe900","#fdc50c","#f7971d","#f26a25","#ee2a24","#ed1c24","#b3202a","#6e1014","#600b0b","#2c1414","#0b0808"]}}}},
{"data":{"name":"vd"},"mark":{"type":"rule","color":"#333","strokeDash":[6,4]},"encoding":{"x":{"field":"x","type":"quantitative","axis":{"orient":"top","values":[-5,-4,-3,-2,-1,0],"labels":false,"title":null,"tickSize":-5}}}},
{"data":{"name":"vt"},"mark":{"type":"rule","color":"#777","strokeDash":[1,2]},"encoding":{"x":{"field":"x","type":"quantitative","axis":null}}},
{"data":{"name":"lines"},"mark":{"type":"rule","color":"#333","strokeDash":[6,4]},"encoding":{"y":{"field":"k","type":"quantitative","axis":{"orient":"right","values":[-2,-1,0,1,2],"labels":false,"title":null,"tickSize":-5}}}},
{"data":{"name":"et"},"mark":{"type":"rule","color":"#222"},"encoding":{"x":{"field":"x","type":"quantitative","axis":null},"y":{"field":"yl","type":"quantitative","axis":null},"y2":{"field":"yh"}}},
{"data":{"name":"et"},"mark":{"type":"rule","color":"#222"},"encoding":{"y":{"field":"y","type":"quantitative","axis":null},"x":{"field":"xl","type":"quantitative","axis":null},"x2":{"field":"xh"}}},
{"data":{"name":"et"},"mark":{"type":"tick","color":"#222","size":7,"thickness":1,"orient":"horizontal"},"encoding":{"x":{"field":"x","type":"quantitative","axis":null},"y":{"field":"yl","type":"quantitative","axis":null}}},
{"data":{"name":"et"},"mark":{"type":"tick","color":"#222","size":7,"thickness":1,"orient":"horizontal"},"encoding":{"x":{"field":"x","type":"quantitative","axis":null},"y":{"field":"yh","type":"quantitative","axis":null}}},
{"data":{"name":"et"},"mark":{"type":"tick","color":"#222","size":7,"thickness":1,"orient":"vertical"},"encoding":{"x":{"field":"xl","type":"quantitative","axis":null},"y":{"field":"y","type":"quantitative","axis":null}}},
{"data":{"name":"et"},"mark":{"type":"tick","color":"#222","size":7,"thickness":1,"orient":"vertical"},"encoding":{"x":{"field":"xh","type":"quantitative","axis":null},"y":{"field":"y","type":"quantitative","axis":null}}},
{"data":{"name":"et"},"mark":{"type":"point","shape":"M0,-1L.25,-.3 1,-.3 .4,.1 .6,.9 0,.4 -.6,.9 -.4,.1 -1,-.3 -.25,-.3Z","size":60,"filled":false,"stroke":"#222","strokeWidth":1},"encoding":{"x":{"field":"x","type":"quantitative","axis":null},"y":{"field":"y","type":"quantitative","axis":null}}},
{"data":{"name":"dl"},"mark":{"type":"point","filled":true,"color":"#1a1a1a","size":13,"opacity":1},"encoding":{"x":{"field":"x","type":"quantitative","axis":null},"y":{"field":"y","type":"quantitative","axis":null}}},
{"data":{"name":"ps"},"mark":{"type":"point","shape":"square","filled":false,"stroke":"#93408f","strokeWidth":2,"size":30,"opacity":1},"encoding":{"x":{"field":"x","type":"quantitative","axis":null},"y":{"field":"y","type":"quantitative","axis":null}}}
]},
{"width":336,"height":280,"resolve":{"axis":{"x":"independent","y":"independent"}},"layer":[
{"data":{"name":"tr"},"mark":{"type":"area","interpolate":"monotone"},"encoding":{"x":{"field":"x","type":"quantitative","scale":{"domain":[-5.09,0.92],"nice":false},"axis":{"orient":"bottom","values":[-5,-4,-3,-2,-1,0],"labels":false,"title":null,"tickSize":-5}},"y":{"field":"l","type":"quantitative","scale":{"domain":[-2.5,2.5],"nice":false},"axis":{"orient":"left","values":[-2,-1,0,1,2],"labels":false,"title":null,"tickSize":-5}},"y2":{"field":"h"},"detail":{"field":"b"},"color":{"field":"v","type":"quantitative","legend":null}}},
{"data":{"name":"vd"},"mark":{"type":"rule","color":"#333","strokeDash":[6,4]},"encoding":{"x":{"field":"x","type":"quantitative","axis":{"orient":"top","values":[-5,-4,-3,-2,-1,0],"labels":false,"title":null,"tickSize":-5}}}},
{"data":{"name":"vt"},"mark":{"type":"rule","color":"#333","strokeDash":[1,2]},"encoding":{"x":{"field":"x","type":"quantitative","axis":null}}},
{"data":{"name":"lines"},"mark":{"type":"rule","color":"#333","strokeDash":[6,4]},"encoding":{"y":{"field":"k","type":"quantitative","axis":{"orient":"right","values":[-2,-1,0,1,2],"labels":false,"title":"[Mg/Fe]","titleAngle":90,"tickSize":-5,"titlePadding":11}}}},
{"data":{"name":"er"},"mark":{"type":"rule","color":"#222"},"encoding":{"x":{"field":"x","type":"quantitative","axis":null},"y":{"field":"yl","type":"quantitative","axis":null},"y2":{"field":"yh"}}},
{"data":{"name":"er"},"mark":{"type":"rule","color":"#222"},"encoding":{"y":{"field":"y","type":"quantitative","axis":null},"x":{"field":"xl","type":"quantitative","axis":null},"x2":{"field":"xh"}}},
{"data":{"name":"er"},"mark":{"type":"tick","color":"#222","size":7,"thickness":1,"orient":"horizontal"},"encoding":{"x":{"field":"x","type":"quantitative","axis":null},"y":{"field":"yl","type":"quantitative","axis":null}}},
{"data":{"name":"er"},"mark":{"type":"tick","color":"#222","size":7,"thickness":1,"orient":"horizontal"},"encoding":{"x":{"field":"x","type":"quantitative","axis":null},"y":{"field":"yh","type":"quantitative","axis":null}}},
{"data":{"name":"er"},"mark":{"type":"tick","color":"#222","size":7,"thickness":1,"orient":"vertical"},"encoding":{"x":{"field":"xl","type":"quantitative","axis":null},"y":{"field":"y","type":"quantitative","axis":null}}},
{"data":{"name":"er"},"mark":{"type":"tick","color":"#222","size":7,"thickness":1,"orient":"vertical"},"encoding":{"x":{"field":"xh","type":"quantitative","axis":null},"y":{"field":"y","type":"quantitative","axis":null}}},
{"data":{"name":"er"},"mark":{"type":"point","shape":"M0,-1L.25,-.3 1,-.3 .4,.1 .6,.9 0,.4 -.6,.9 -.4,.1 -1,-.3 -.25,-.3Z","size":60,"filled":false,"stroke":"#222","strokeWidth":1},"encoding":{"x":{"field":"x","type":"quantitative","axis":null},"y":{"field":"y","type":"quantitative","axis":null}}},
{"data":{"name":"dr"},"mark":{"type":"point","filled":true,"color":"#1a1a1a","size":13,"opacity":1},"encoding":{"x":{"field":"x","type":"quantitative","axis":null},"y":{"field":"y","type":"quantitative","axis":null}}},
{"data":{"values":[{"x":-4.9,"y":1.62,"t":"BULGE"}]},"mark":{"type":"text","font":"DejaVu Sans","fontWeight":"bold","fontSize":18,"color":"#222"},"encoding":{"x":{"field":"x","type":"quantitative","axis":null},"y":{"field":"y","type":"quantitative","axis":null},"text":{"field":"t"}}}
]},
{"width":334,"height":280,"resolve":{"axis":{"x":"independent","y":"independent"}},"layer":[
{"data":{"name":"bl"},"mark":{"type":"area","interpolate":"monotone"},"encoding":{"x":{"field":"x","type":"quantitative","scale":{"domain":[-5.05,0.93],"nice":false},"axis":{"orient":"bottom","values":[-5,-4,-3,-2,-1,0],"title":"[Fe/H]","tickSize":-5,"labelPadding":11,"titlePadding":3}},"y":{"field":"l","type":"quantitative","scale":{"domain":[-2.5,2.5],"nice":false},"axis":{"orient":"left","values":[-2,-1,0,1,2],"title":"[Ca/Fe]","tickSize":-5,"labelPadding":3,"titlePadding":12}},"y2":{"field":"h"},"detail":{"field":"b"},"color":{"field":"v","type":"quantitative","legend":null}}},
{"data":{"name":"vd"},"mark":{"type":"rule","color":"#333","strokeDash":[6,4]},"encoding":{"x":{"field":"x","type":"quantitative","axis":{"orient":"top","values":[-5,-4,-3,-2,-1,0],"labels":false,"title":null,"tickSize":-5}}}},
{"data":{"name":"vt"},"mark":{"type":"rule","color":"#777","strokeDash":[1,2]},"encoding":{"x":{"field":"x","type":"quantitative","axis":null}}},
{"data":{"name":"lines"},"mark":{"type":"rule","color":"#333","strokeDash":[6,4]},"encoding":{"y":{"field":"k","type":"quantitative","axis":{"orient":"right","values":[-2,-1,0,1,2],"labels":false,"title":null,"tickSize":-5}}}},
{"data":{"name":"pl"},"mark":{"type":"point","filled":false,"stroke":"#1c1c1c","strokeWidth":1.3,"size":11,"opacity":1},"encoding":{"x":{"field":"x","type":"quantitative","axis":null},"y":{"field":"y","type":"quantitative","axis":null}}}
]},
{"width":336,"height":280,"resolve":{"axis":{"x":"independent","y":"independent"}},"layer":[
{"data":{"name":"br"},"mark":{"type":"area","interpolate":"monotone"},"encoding":{"x":{"field":"x","type":"quantitative","scale":{"domain":[-5.09,0.92],"nice":false},"axis":{"orient":"bottom","values":[-5,-4,-3,-2,-1,0],"title":"[Fe/H]","tickSize":-5,"labelPadding":11,"titlePadding":3}},"y":{"field":"l","type":"quantitative","scale":{"domain":[-2.5,2.5],"nice":false},"axis":{"orient":"left","values":[-2,-1,0,1,2],"labels":false,"title":null,"tickSize":-5}},"y2":{"field":"h"},"detail":{"field":"b"},"color":{"field":"v","type":"quantitative","legend":null}}},
{"data":{"name":"vd"},"mark":{"type":"rule","color":"#333","strokeDash":[6,4]},"encoding":{"x":{"field":"x","type":"quantitative","axis":{"orient":"top","values":[-5,-4,-3,-2,-1,0],"labels":false,"title":null,"tickSize":-5}}}},
{"data":{"name":"vt"},"mark":{"type":"rule","color":"#333","strokeDash":[1,2]},"encoding":{"x":{"field":"x","type":"quantitative","axis":null}}},
{"data":{"name":"lines"},"mark":{"type":"rule","color":"#333","strokeDash":[6,4]},"encoding":{"y":{"field":"k","type":"quantitative","axis":{"orient":"right","values":[-2,-1,0,1,2],"labels":false,"title":"[Mg/Fe]","titleAngle":90,"tickSize":-5,"titlePadding":11}}}},
{"data":{"name":"pr"},"mark":{"type":"point","filled":false,"stroke":"#1c1c1c","strokeWidth":1.3,"size":11,"opacity":1},"encoding":{"x":{"field":"x","type":"quantitative","axis":null},"y":{"field":"y","type":"quantitative","axis":null}}},
{"data":{"values":[{"x":-5.03,"y":1.63,"t":"HALO"}]},"mark":{"type":"text","font":"DejaVu Sans","fontWeight":"bold","fontSize":18,"color":"#222"},"encoding":{"x":{"field":"x","type":"quantitative","axis":null},"y":{"field":"y","type":"quantitative","axis":null},"text":{"field":"t"}}}
]},
{"width":334,"height":80,"view":{"stroke":null},"layer":[
{"data":{"name":"cb"},"mark":{"type":"rect","width":7},"encoding":{"x":{"field":"v","type":"quantitative","scale":{"domain":[-4.9,-2.331],"nice":false},"axis":null},"y":{"datum":0,"type":"quantitative","scale":{"domain":[0,80],"nice":false},"axis":null},"y2":{"datum":13},"color":{"field":"v","type":"quantitative","legend":null}}},
{"data":{"name":"cbt"},"mark":{"type":"rule","color":"#222","strokeDash":[5,2]},"encoding":{"x":{"field":"v","type":"quantitative","axis":null},"y":{"datum":0,"type":"quantitative","axis":null},"y2":{"datum":13}}},
{"data":{"values":[{"a":-4.5,"b":0}]},"mark":{"type":"rect","fill":null,"fillOpacity":0,"stroke":"#222","strokeWidth":1.2},"encoding":{"x":{"field":"a","type":"quantitative","axis":null},"x2":{"field":"b"},"y":{"datum":0,"type":"quantitative","axis":null},"y2":{"datum":13}}},
{"data":{"name":"cbl"},"mark":{"type":"text","font":"DejaVu Sans","fontSize":15,"color":"#222"},"encoding":{"x":{"field":"v","type":"quantitative","axis":null},"y":{"field":"y","type":"quantitative","axis":null},"text":{"field":"t"}}},
{"data":{"values":[{"x":-2.5,"y":-31,"t":"log"}]},"mark":{"type":"text","font":"DejaVu Sans","fontSize":15,"color":"#222","align":"left"},"encoding":{"x":{"field":"x","type":"quantitative","axis":null},"y":{"field":"y","type":"quantitative","axis":null},"text":{"field":"t"}}},
{"data":{"values":[{"x":-2.285,"y":-30,"t":"N"}]},"mark":{"type":"text","font":"Liberation Serif","fontStyle":"italic","fontSize":15,"color":"#222","align":"left"},"encoding":{"x":{"field":"x","type":"quantitative","axis":null},"y":{"field":"y","type":"quantitative","axis":null},"text":{"field":"t"}}},
{"data":{"values":[{"x":-2.177,"y":-35,"t":"stars"}]},"mark":{"type":"text","font":"Liberation Serif","fontStyle":"italic","fontSize":11,"color":"#222","align":"left"},"encoding":{"x":{"field":"x","type":"quantitative","axis":null},"y":{"field":"y","type":"quantitative","axis":null},"text":{"field":"t"}}}
]}
]}
